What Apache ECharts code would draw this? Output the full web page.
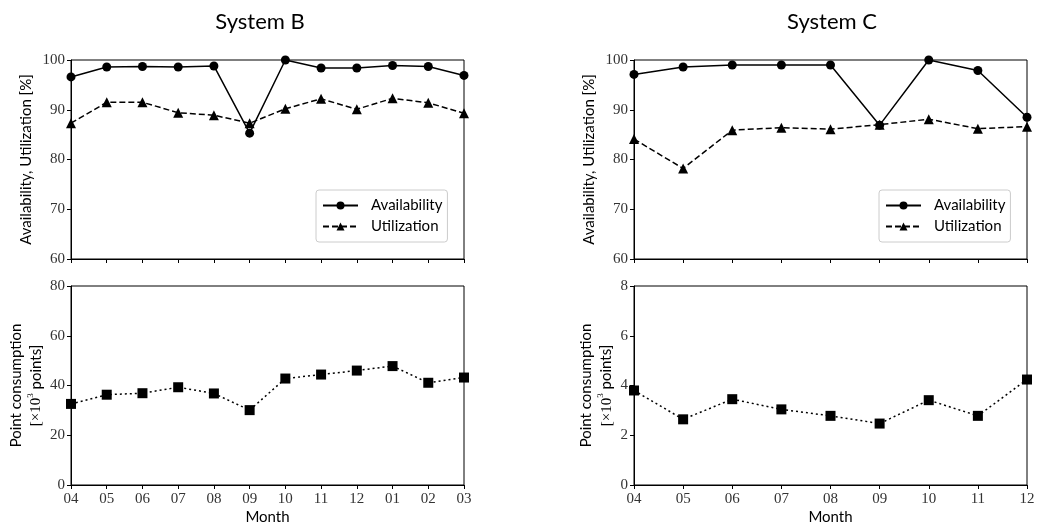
<!DOCTYPE html>
<html>
<head>
<meta charset="utf-8">
<script src="https://cdn.jsdelivr.net/npm/echarts@6/dist/echarts.min.js"></script>
<style>
  html, body { margin: 0; padding: 0; background: #fff; }
  #chart { width: 1038px; height: 532px; }
</style>
</head>
<body>
<div id="chart"></div>
<script>
// month labels
var monthsB = ['04', '05', '06', '07', '08', '09', '10', '11', '12', '01', '02', '03'];
var monthsC = ['04', '05', '06', '07', '08', '09', '10', '11', '12'];

// System B
var availB = [96.6, 98.6, 98.7, 98.6, 98.8, 85.3, 100.0, 98.4, 98.4, 98.9, 98.7, 96.9];
var utilB = [87.3, 91.5, 91.5, 89.4, 88.9, 87.3, 90.2, 92.2, 90.1, 92.3, 91.4, 89.3];
var pointsB = [32.6, 36.3, 36.9, 39.3, 36.8, 30.1, 42.8, 44.4, 46.0, 47.8, 41.1, 43.2];

// System C
var availC = [97.1, 98.6, 99.0, 99.0, 99.0, 86.9, 100.0, 97.9, 88.5];
var utilC = [84.1, 78.2, 85.9, 86.4, 86.1, 87.0, 88.1, 86.2, 86.6];
var pointsC = [3.8, 2.64, 3.45, 3.04, 2.78, 2.47, 3.41, 2.78, 4.24];

var chart = echarts.init(document.getElementById('chart'));

var serif = 'Liberation Serif';
var sans = 'Lato';

function xAxis(idx, cats, withLabels) {
    return {
        type: 'category',
        gridIndex: idx,
        data: cats,
        boundaryGap: false,
        axisLine: { lineStyle: { color: '#000', width: 1 } },
        axisTick: { show: true, inside: false, length: 4, alignWithLabel: true, lineStyle: { color: '#000' } },
        axisLabel: { show: withLabels, color: '#333', fontFamily: serif, fontSize: 15, margin: 7 },
        name: withLabels ? 'Month' : '',
        nameLocation: 'middle',
        nameGap: 25,
        nameTextStyle: { fontFamily: sans, fontSize: 15, color: '#000' },
        splitLine: { show: false }
    };
}

function yAxis(idx, min, max, interval, name, gap) {
    return {
        type: 'value',
        gridIndex: idx,
        min: min,
        max: max,
        interval: interval,
        axisLine: { show: true, lineStyle: { color: '#000', width: 1 } },
        axisTick: { show: true, inside: false, length: 4, lineStyle: { color: '#000' } },
        axisLabel: { color: '#333', fontFamily: serif, fontSize: 15, margin: 6 },
        splitLine: { show: false },
        name: name,
        nameLocation: 'middle',
        nameGap: gap,
        nameTextStyle: {
            fontFamily: sans, fontSize: 15, color: '#000', lineHeight: 20,
            rich: {
                a: { fontFamily: sans, fontSize: 15, color: '#000', lineHeight: 20 },
                s: { fontFamily: serif, fontSize: 9, color: '#000', verticalAlign: 'top', lineHeight: 20 },
                m: { fontFamily: serif, fontSize: 15, color: '#000', lineHeight: 20 }
            }
        }
    };
}

var gridBox = { show: true, borderColor: '#000', borderWidth: 1, backgroundColor: '#fff', containLabel: false };

function availSeries(x, y, data) {
    return {
        name: 'Availability', type: 'line', xAxisIndex: x, yAxisIndex: y, data: data,
        symbol: 'circle', symbolSize: 9, showSymbol: true,
        lineStyle: { color: '#000', width: 1.5, type: 'solid' },
        itemStyle: { color: '#000' },
        z: 3
    };
}
function utilSeries(x, y, data) {
    return {
        name: 'Utilization', type: 'line', xAxisIndex: x, yAxisIndex: y, data: data,
        symbol: 'triangle', symbolSize: 10, showSymbol: true,
        lineStyle: { color: '#000', width: 1.5, type: [6, 3] },
        itemStyle: { color: '#000' },
        z: 2
    };
}
function pointSeries(x, y, data) {
    return {
        name: 'Points', type: 'line', xAxisIndex: x, yAxisIndex: y, data: data,
        symbol: 'rect', symbolSize: 10, showSymbol: true,
        lineStyle: { color: '#000', width: 1.5, type: [2, 3] },
        itemStyle: { color: '#000' }
    };
}

var pointName = '{a|Point consumption}\n{m|[×10}{s|3}{a| points]}';
var availName = 'Availability, Utilization [%]';

var legendBase = {
    orient: 'vertical',
    data: ['Availability', 'Utilization'],
    borderColor: '#ccc',
    borderWidth: 1,
    borderRadius: 3,
    padding: [8, 5, 8, 6],
    itemGap: 6,
    itemWidth: 35,
    itemHeight: 10,
    textStyle: { fontFamily: sans, fontSize: 15, color: '#000', padding: [0, 0, 0, 8] },
    backgroundColor: '#fff'
};

var option = {
    animation: false,
    backgroundColor: '#fff',
    title: [
        { text: 'System B', left: 255, top: 6, textAlign: 'center', textStyle: { fontFamily: sans, fontSize: 22, fontWeight: 'normal', color: '#000' } },
        { text: 'System C', left: 827, top: 6, textAlign: 'center', textStyle: { fontFamily: sans, fontSize: 22, fontWeight: 'normal', color: '#000' } }
    ],
    legend: [
        Object.assign({}, legendBase, { left: 316, top: 190 }),
        Object.assign({}, legendBase, { left: 879, top: 190 })
    ],
    grid: [
        Object.assign({ left: 71, top: 60, width: 393, height: 199 }, gridBox),
        Object.assign({ left: 71, top: 286, width: 393, height: 199 }, gridBox),
        Object.assign({ left: 634, top: 60, width: 393, height: 199 }, gridBox),
        Object.assign({ left: 634, top: 286, width: 393, height: 199 }, gridBox)
    ],
    xAxis: [
        xAxis(0, monthsB, false),
        xAxis(1, monthsB, true),
        xAxis(2, monthsC, false),
        xAxis(3, monthsC, true)
    ],
    yAxis: [
        yAxis(0, 60, 100, 10, availName, 35),
        yAxis(1, 0, 80, 20, pointName, 22),
        yAxis(2, 60, 100, 10, availName, 35),
        yAxis(3, 0, 8, 2, pointName, 16)
    ],
    series: [
        availSeries(0, 0, availB),
        utilSeries(0, 0, utilB),
        pointSeries(1, 1, pointsB),
        availSeries(2, 2, availC),
        utilSeries(2, 2, utilC),
        pointSeries(3, 3, pointsC)
    ]
};

chart.setOption(option);
</script>
</body>
</html>
